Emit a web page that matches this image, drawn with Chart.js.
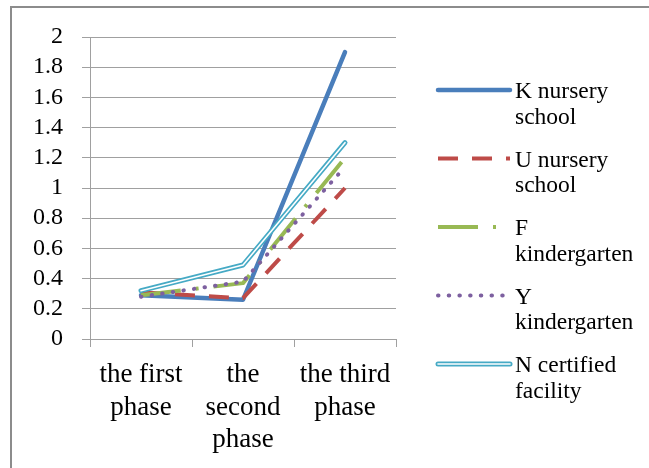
<!DOCTYPE html>
<html>
<head>
<meta charset="utf-8">
<script src="https://cdn.jsdelivr.net/npm/chart.js"></script>
<style>
body { margin: 0; background: #fff; }
#frame { position: absolute; left: 10px; top: 6px; width: 700px; height: 500px;
  border-left: 2px solid #8c8c8c; border-top: 2px solid #8c8c8c; }
canvas { position: absolute; left: 0; top: 0; }
</style>
</head>
<body>
<div id="frame"></div>
<canvas id="chart" width="649" height="468"></canvas>
<script>
// categories and series
const phases = [['the first', 'phase'], ['the', 'second', 'phase'], ['the third', 'phase']];
const seriesNames = [['K nursery', 'school'], ['U nursery', 'school'], ['F', 'kindergarten'], ['Y', 'kindergarten'], ['N certified', 'facility']];
const kNursery = [0.29, 0.26, 1.9];
const uNursery = [0.31, 0.27, 1.0];
const fKinder = [0.29, 0.37, 1.2];
const yKinder = [0.28, 0.38, 1.14];
const nFacility = [0.32, 0.49, 1.3];
const yMin = 0, yMax = 2, yStep = 0.2;

const serif = "'Liberation Serif', 'Times New Roman', serif";

function line(series, data, color, width, dash, cap, order) {
    return {
        series: series,
        label: seriesNames[series].join(' '),
        data: data,
        borderColor: color,
        borderWidth: width,
        borderDash: dash,
        borderCapStyle: cap,
        borderJoinStyle: 'round',
        pointRadius: 0,
        tension: 0,
        fill: false,
        order: order
    };
}

const datasets = [
    line(0, kNursery, '#4a7ebb', 4.5, [], 'round', 6),
    line(1, uNursery, '#be4b48', 4, [20, 14], 'butt', 5),
    line(2, fKinder, '#98b954', 4, [40, 15, 3, 15], 'butt', 4),
    line(3, yKinder, '#7d60a0', 4, [0.5, 10.2], 'round', 3),
    line(4, nFacility, '#46aac5', 5, [], 'round', 2),
    line(4, nFacility, '#ffffff', 1.6, [], 'round', 1)
];

// legend on the right, with the same line styles as the series
const sideLegend = {
    id: 'sideLegend',
    afterDraw(chart) {
        const ctx = chart.ctx;
        const x0 = 438, x1 = 510, tx = 515;
        const font = Chart.helpers.toFont({ family: serif, size: 23.5, lineHeight: 1.1 });
        seriesNames.forEach((names, i) => {
            const y = 90 + i * 68.5;
            chart.data.datasets.filter(d => d.series === i).forEach(d => {
                ctx.save();
                ctx.strokeStyle = d.borderColor;
                ctx.lineWidth = d.borderWidth;
                ctx.lineCap = d.borderCapStyle;
                ctx.setLineDash(d.borderDash);
                ctx.beginPath();
                ctx.moveTo(x0, y);
                ctx.lineTo(x1, y);
                ctx.stroke();
                ctx.restore();
            });
            Chart.helpers.renderText(ctx, names, tx, y + 8, font, {
                color: '#000', textAlign: 'left', textBaseline: 'alphabetic'
            });
        });
    }
};

new Chart(document.getElementById('chart'), {
    type: 'line',
    data: { labels: phases, datasets: datasets },
    options: {
        responsive: false,
        animation: false,
        layout: { padding: { left: 0, top: 37, right: 253, bottom: 0 } },
        plugins: { legend: { display: false }, tooltip: { enabled: false } },
        scales: {
            x: {
                offset: true,
                grid: { offset: true, drawOnChartArea: false, drawTicks: true, tickLength: 8, color: '#a0a0a0' },
                border: { color: '#a0a0a0' },
                ticks: { color: '#000', font: { family: serif, size: 27, lineHeight: 1.2 }, padding: 12, maxRotation: 0 },
                afterFit: s => { s.height = 129; }
            },
            y: {
                min: yMin,
                max: yMax,
                grid: { color: '#a0a0a0', tickLength: 8 },
                border: { color: '#a0a0a0' },
                ticks: {
                    stepSize: yStep, autoSkip: false, color: '#000',
                    font: { family: serif, size: 24 }, padding: 19,
                    callback: v => String(+v.toFixed(1))
                },
                afterFit: s => { s.width = 90; }
            }
        }
    },
    plugins: [sideLegend]
});
</script>
</body>
</html>
